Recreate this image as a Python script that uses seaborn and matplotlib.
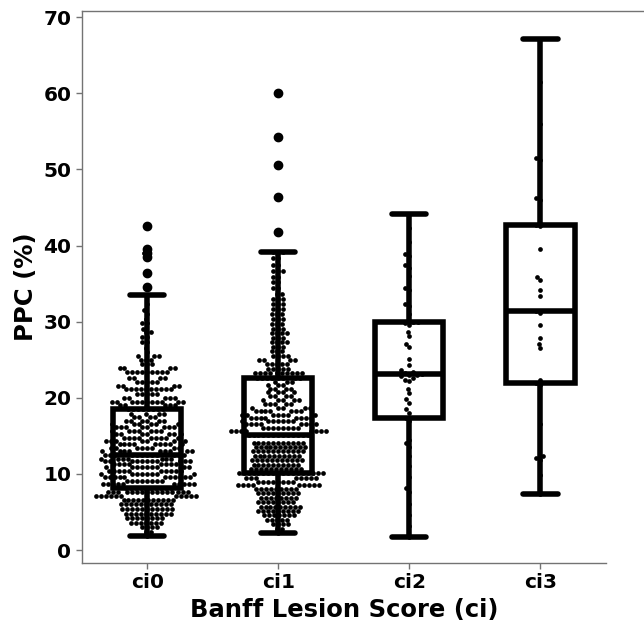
#!/usr/bin/python3

# box + swarm plot of PPC per Banff ci lesion score

import numpy as np
import pandas as pd
import matplotlib
matplotlib.use('Agg')
import matplotlib.pyplot as plt
import seaborn as sns


categories = ['ci0', 'ci1', 'ci2', 'ci3']

# ci0 / ci1 are large groups: PPC value levels and how many biopsies sit at each
ci0_levels = [1.8, 2.4, 3.0, 3.6, 4.2, 4.8, 5.4, 6.0, 6.55, 7.05, 7.6,
              8.2,
              8.7, 9.1, 9.6, 10.0, 10.4, 10.9, 11.3, 11.7, 12.0,
              12.5,
              13.0, 13.4, 13.9, 14.3, 14.7, 15.2, 15.6, 16.1, 16.5, 17.0, 17.5, 17.9,
              18.5,
              19.0, 19.5, 20.0, 20.5, 21.1, 21.6, 22.1, 22.6, 23.4, 23.9, 24.4, 25.0,
              25.5, 26.0, 26.6, 27.3, 28.0, 28.6, 29.1, 29.8, 30.4, 31.0, 31.5, 32.3, 33.5,
              34.5, 36.4, 38.5, 39.0, 39.5, 42.5]
ci0_counts = [1, 2, 4, 7, 8, 10, 11, 11, 11, 11, 16,
              10,
              10, 8, 11, 8, 10, 9, 8, 11, 7,
              12,
              9, 8, 9, 7, 9, 7, 7, 8, 6, 6, 4, 4,
              8,
              5, 11, 5, 5, 10, 4, 5, 4, 9, 4, 3, 3,
              3, 1, 1, 2, 2, 2, 1, 2, 1, 1, 1, 1, 1,
              1, 1, 1, 1, 1, 1]

ci1_levels = [2.2, 2.8, 3.4, 4.0, 4.55, 5.15, 5.7, 6.3, 6.85, 7.45, 8.0, 8.5, 9.0, 9.5,
              10.1,
              10.65, 11.2, 11.8, 12.35, 12.95, 13.5, 14.1,
              15.1,
              15.6, 16.0, 16.5, 16.9, 17.4, 17.8, 18.3, 18.7, 19.2, 19.7, 20.2, 20.7,
              21.2, 21.7, 22.1,
              22.6,
              23.2, 23.8, 24.4, 24.9, 25.5, 26.1, 26.7, 27.3, 27.9, 28.5, 29.1, 29.7,
              30.4, 31.0, 31.6, 32.3, 33.0, 33.6, 34.4, 35.2, 35.9, 36.7, 37.5, 38.3, 39.1,
              41.8, 46.4, 50.6, 54.3, 60.0]
ci1_counts = [1, 2, 4, 5, 7, 9, 9, 8, 8, 9, 9, 9, 8, 8,
              18,
              11, 10, 11, 10, 11, 11, 11,
              13,
              8, 8, 8, 7, 8, 7, 7, 5, 5, 5, 4, 4,
              4, 3, 3,
              8,
              10, 5, 5, 4, 4, 3, 3, 4, 3, 4, 3, 3,
              3, 3, 3, 3, 3, 2, 2, 2, 2, 3, 2, 2, 3,
              1, 1, 1, 1, 1]

# ci2 / ci3 are small groups: one value per biopsy
ci2_ppc = [1.75, 3.2, 4.6, 6.0, 7.6, 8.1, 9.6, 11.0, 12.3, 13.6, 14.0, 14.4, 16.9,
           17.3,
           18.0, 18.5, 19.3, 19.8, 20.6, 21.2, 22.2, 22.4, 22.6, 22.8, 23.0, 23.0,
           23.1,
           23.2, 23.4, 23.6, 24.3, 25.1, 26.7, 27.1, 28.1, 28.7, 29.5, 29.8, 29.9,
           30.0,
           31.0, 32.0, 32.3, 34.1, 34.4, 36.0, 37.1, 37.4, 38.6, 38.9, 40.5, 42.3, 44.1]

ci3_ppc = [7.4, 9.8, 11.8, 12.1, 12.3, 16.5, 21.7,
           22.0,
           22.4, 26.5, 27.1, 27.9, 29.6, 31.1,
           31.4,
           33.4, 34.1, 35.5, 35.9, 39.6, 42.5,
           42.7,
           46.0, 46.3, 51.2, 51.5, 56.0, 61.5, 67.1]

y_ticks = [0, 10, 20, 30, 40, 50, 60, 70]


def main():
    groups = [np.repeat(ci0_levels, ci0_counts),
              np.repeat(ci1_levels, ci1_counts),
              ci2_ppc, ci3_ppc]
    plot_df = pd.concat(
        [pd.DataFrame({'ci': c, 'PPC': v}) for c, v in zip(categories, groups)],
        ignore_index=True)

    sns.set_style('white')
    plt.rcParams['font.family'] = ['DejaVu Sans']
    plt.rcParams['font.weight'] = 'bold'
    plt.rcParams['text.color'] = 'black'
    plt.rcParams['axes.labelcolor'] = 'black'

    fig = plt.figure(figsize=(6.44, 6.23), dpi=100)
    ax = fig.add_axes([0.1269, 0.0963, 0.8141, 0.886])

    sns.boxplot(data=plot_df, x='ci', y='PPC', order=categories,
                color='white', linecolor='black', linewidth=4, width=0.52,
                flierprops=dict(marker='o', markerfacecolor='black',
                                markeredgecolor='black', markersize=6),
                ax=ax)
    sns.swarmplot(data=plot_df, x='ci', y='PPC', order=categories,
                  color='black', size=3.4, ax=ax)

    ax.set_xlim(-0.5, 3.5)
    ax.set_ylim(-1.7, 70.8)
    ax.set_yticks(y_ticks)
    ax.set_xlabel('Banff Lesion Score (ci)', fontsize=17.5, fontweight='bold')
    ax.set_ylabel('PPC (%)', fontsize=17.5, fontweight='bold')
    ax.tick_params(axis='both', length=4, width=1, color='0.45',
                   labelcolor='black', labelsize=14.5, left=True, bottom=True)
    for lab in ax.get_xticklabels() + ax.get_yticklabels():
        lab.set_fontweight('bold')
    for s in ax.spines.values():
        s.set_color('0.45')
        s.set_linewidth(1)
    # reference: no right spine, top frame line runs on to the image edge
    ax.spines['right'].set_visible(False)
    ax.spines['top'].set_bounds(-0.5, 3.85)
    ax.spines['top'].set_clip_on(False)

    fig.savefig('out.png', dpi=100)


if __name__ == "__main__":
    main()
